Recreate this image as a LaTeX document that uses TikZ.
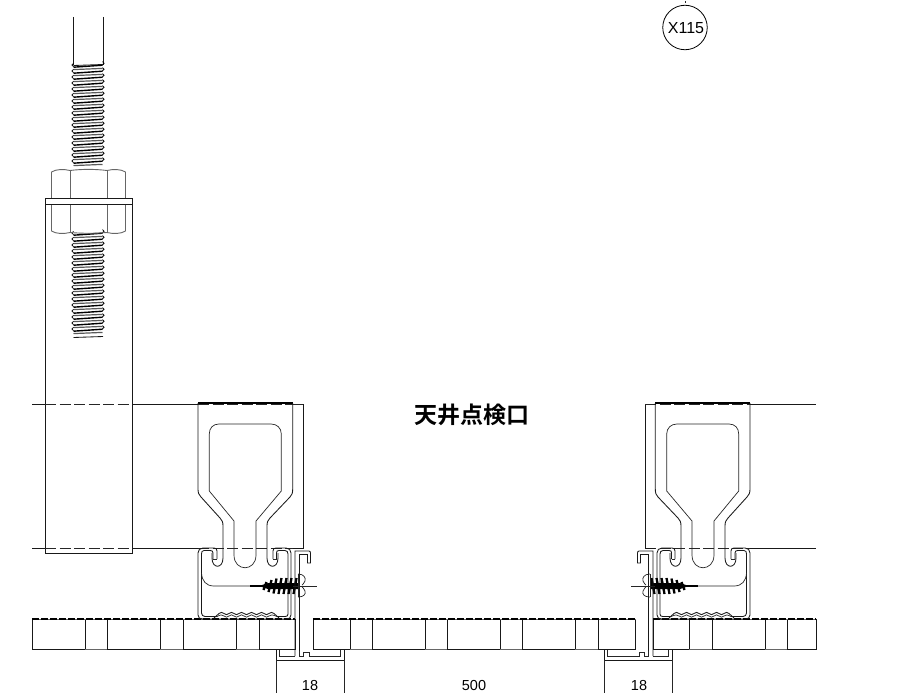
\documentclass[tikz,border=0pt]{standalone}
\usepackage{fontspec}
\setmainfont{Liberation Sans}
\newfontfamily\cjkfont{Noto Sans CJK JP}[BoldFont={Noto Sans CJK JP Bold}]
\tikzset{
  line/.style={line width=0.85pt,draw=black!90},
  heavy/.style={line width=1.1pt,draw=black},
  thin/.style={line width=0.7pt,draw=black!85},
  soft/.style={line width=0.9pt,draw=black!60},
  dashline/.style={line width=0.8pt,draw=black!85,dash pattern=on 11pt off 3.5pt},
  paneltop/.style={line width=1.1pt,draw=black,dash pattern=on 7pt off 2pt},
  lbl/.style={font=\fontsize{14.5}{15}\selectfont,text=black,inner sep=0pt},
}
\newcommand{\threadrun}[2]{%
  \foreach \i in {0,...,#2}{
    \pgfmathsetmacro{\yy}{#1+6*\i}
    \draw[line width=1.4pt,black] (73.5,\yy+1.2) -- (102.5,\yy-0.8);
    \draw[line width=1.2pt,black!65] (73.5,\yy+3.6) -- (102.5,\yy+2.4);
    \draw[line width=0.8pt,black] (73.5,\yy+0.6) arc[start angle=90,end angle=270,radius=1.6];
    \draw[line width=0.8pt,black] (102.5,\yy-1.2) arc[start angle=90,end angle=-90,radius=1.6];
  }
}
\newcommand{\clipset}{%
  % thin outer frame and hanger
  \draw[line] (292.7,548) -- (303,548) -- (303,404);
  \draw[thin] (292.7,404) -- (303,404);
  \draw[heavy] (198,403) -- (292.7,403);
  \draw[line] (198,403) -- (198,489) .. controls (198,493) and (199,495) .. (201,497)
    -- (220,518) .. controls (222,520) and (223,522) .. (223,526) -- (223,558)
    .. controls (223,569) and (212,569) .. (212,558) -- (212,553);
  \draw[line] (292.7,403) -- (292.7,489) .. controls (292.7,493) and (292,495) .. (290,497)
    -- (270,518) .. controls (268,520) and (267,522) .. (267,526) -- (267,558)
    .. controls (267,569) and (278,569) .. (278,558) -- (278,553);
  \draw[thin] (234,524) -- (234,555) .. controls (234,572) and (256,572) .. (256,555) -- (256,521)
    -- (281.3,491) -- (281.3,434) .. controls (281.3,428) and (277,424) .. (271,424)
    -- (219,424) .. controls (213,424) and (209.3,428) .. (209.3,434) -- (209.3,491) -- (234,521) -- cycle;
  % channel
  \draw[line] (217,559) -- (217,551) .. controls (217,549) and (216,548) .. (214,548)
    -- (203,548) .. controls (200,548) and (198,550) .. (198,553) -- (198,615)
    .. controls (198,618) and (200,619) .. (203,619) -- (286,619)
    .. controls (289,619) and (291,618) .. (291,615) -- (291,553)
    .. controls (291,550) and (289,548) .. (286,548) -- (276,548)
    .. controls (274,548) and (273,549) .. (273,551) -- (273,559);
  \draw[line] (213,559) -- (213,553) .. controls (213,551) and (212,550.5) .. (210,550.5)
    -- (204,550.5) .. controls (202,550.5) and (201.5,552) .. (201.5,554) -- (201.5,613)
    .. controls (201.5,615) and (203,616.5) .. (205,616.5) -- (217,616.5);
  \draw[thin] (213,559) -- (217,559) (273,559) -- (276.5,559);
  \draw[line] (276.5,559) -- (276.5,553) .. controls (276.5,551) and (277,550.5) .. (279,550.5)
    -- (285,550.5) .. controls (287,550.5) and (288,552) .. (288,554) -- (288,614)
    .. controls (288,616) and (287,616.5) .. (285,616.5) -- (277,616.5);
  % corrugated base
  \draw[line] (214,618) -- (219,613.5)
    .. controls (221,612) and (222,612) .. (224,613.5) .. controls (226,615) and (227,615) .. (229,613.5)
    .. controls (231,612) and (232,612) .. (234,613.5) .. controls (236,615) and (237,615) .. (239,613.5)
    .. controls (241,612) and (242,612) .. (244,613.5) .. controls (246,615) and (247,615) .. (249,613.5)
    .. controls (251,612) and (252,612) .. (254,613.5) .. controls (256,615) and (257,615) .. (259,613.5)
    .. controls (261,612) and (262,612) .. (264,613.5) .. controls (266,615) and (267,615) .. (269,613.5)
    .. controls (271,612) and (272,612) .. (274,613.5) -- (279,618);
  \draw[thin] (217,616.5)  .. controls (221,614.5) and (222,614.5) .. (224,616)
    .. controls (226,617.5) and (227,617.5) .. (229,616) .. controls (231,614.5) and (232,614.5) .. (234,616)
    .. controls (236,617.5) and (237,617.5) .. (239,616) .. controls (241,614.5) and (242,614.5) .. (244,616)
    .. controls (246,617.5) and (247,617.5) .. (249,616) .. controls (251,614.5) and (252,614.5) .. (254,616)
    .. controls (256,617.5) and (257,617.5) .. (259,616) .. controls (261,614.5) and (262,614.5) .. (264,616)
    .. controls (266,617.5) and (267,617.5) .. (269,616) .. controls (271,614.5) and (272,614.5) .. (277,616.5);
  % hold-down tail of screw
  \draw[thin] (201.5,573) .. controls (202,581) and (206,586) .. (214,586) -- (260,586);
  \draw[line width=1.4pt,black] (250,586) -- (262,586);
  % screw thread
  \fill[black] (259,586) -- (268,583) -- (298,583) -- (298,589) -- (268,589) -- cycle;
  \foreach \sx/\sh in {265/4,270/6,275/7.5,280/8,285/8,290/8,295/8}{
    \draw[line width=2.3pt,black] (\sx+1.5,586-\sh) -- (\sx-1.5,586+\sh);
  }
  % screw head
  \draw[thin] (298,574) .. controls (304,574) and (306,578) .. (305,581) .. controls (304,584) and (302,585) .. (302,585);
  \draw[thin] (298,597) .. controls (304,597) and (306,594) .. (305,591) .. controls (304,588) and (302,587) .. (302,587);
  \draw[thin] (298,574) -- (298,597);
  \draw[thin] (293,586) -- (317,586);
  % T-bar
  \draw[line] (299.5,651) -- (299.5,554.5) -- (307.5,554.5) -- (307.5,563) -- (310.5,563) -- (310.5,553)
    .. controls (310.5,552) and (310,551) .. (309,551) -- (295,551) -- (295,656);
  \draw[line] (276,650) -- (276,660) -- (344,660) -- (344,650);
  \draw[thin] (279.5,650) -- (279.5,656) -- (295,656);
  \draw[thin] (299.5,651) -- (299.5,656) -- (303.5,656) -- (303.5,652) -- (309,652) -- (309,656) -- (340.5,656) -- (340.5,650);
  % dimension lines
  \draw[thin] (276,660) -- (276,693) (344,660) -- (344,693);
}
\begin{document}
\begin{tikzpicture}[x=1pt,y=-1pt]
\useasboundingbox (0,0) rectangle (900,693);
% rod
\draw[line] (73.5,17) -- (73.5,65) (103,17) -- (103,65);
\threadrun{66}{16}
\threadrun{234}{16}
\draw[line] (73.5,65.5) -- (103,64.5);
\draw[line] (73.5,337.5) -- (103,336.5);
% nut
\draw[soft] (51.5,198) -- (51.5,172) .. controls (56,169) and (64,169) .. (70,170.5) .. controls (82,169) and (95,169) .. (107,170.5) .. controls (113,169) and (121,169) .. (125.5,172) -- (125.5,198);
\draw[soft] (70,170.5) -- (70,198) (107,170.5) -- (107,198);
\draw[soft] (51.5,204) -- (51.5,231) .. controls (56,234) and (64,234) .. (70,232.5) .. controls (82,233.5) and (95,233.5) .. (107,232.5) .. controls (113,234) and (121,234) .. (125.5,231) -- (125.5,204);
\draw[soft] (70,204) -- (70,232.5) (107,204) -- (107,232.5);
% washer + sleeve
\draw[line] (45,198) rectangle (132,204);
\draw[line] (45,204) -- (45,553) -- (132,553) -- (132,204);
% ceiling lines
\draw[line] (32,404) -- (45,404) (132,404) -- (198,404) (750,404) -- (816,404);
\draw[line] (32,548) -- (45,548) (132,548) -- (198,548) (750,548) -- (816,548);
\draw[dashline] (45,404) -- (132,404);
\draw[dashline] (45,548) -- (132,548);
\draw[dashline] (198,404) -- (303,404);
\draw[dashline] (198,548) -- (303,548);
\draw[dashline] (645,404) -- (750,404);
\draw[dashline] (645,548) -- (750,548);
% ceiling panels
\foreach \a/\b in {32/85,107/160,183/236,259/295,313/350,372/425,447/500,522/575,598/635.5,653/689,712/765,787/816}{
  \draw[line,line width=1pt] (\a,619) -- (\a,649) -- (\b,649) -- (\b,619);
}
\foreach \a/\b in {85/107,160/183,236/259,350/372,425/447,500/522,575/598,689/712,765/787}{
  \draw[soft] (\a,649) -- (\b,649);
}
\draw[soft] (32,619.5) -- (295,619.5) (313,619.5) -- (635.5,619.5) (653,619.5) -- (816,619.5);
\draw[paneltop] (32,619) -- (295,619);
\draw[paneltop] (313,619) -- (635.5,619);
\draw[paneltop] (653,619) -- (816,619);
% clip assemblies
\begin{scope}\clipset\end{scope}
\begin{scope}[shift={(948,0)},xscale=-1]\clipset\end{scope}
% texts
\node[lbl] (d1) at (310,685.5) {18};
\node[lbl] (d2) at (474,685.5) {500};
\node[lbl] (d3) at (639,685.5) {18};
\node[font=\cjkfont\fontsize{23}{23}\selectfont\bfseries,inner sep=0pt] (title) at (472,415) {天井点検口};
% callout
\node[draw=black,line width=0.8pt,circle,minimum size=44.5pt,inner sep=0pt] (callout) at (685,27.5) {};
\node[lbl,font=\fontsize{16}{17}\selectfont] (calloutlabel) at (686,28) {X115};
\coordinate (tickA) at (685,1);
\coordinate (tickB) at (685,3);
\draw[thin] (tickA) -- (tickB);
\end{tikzpicture}
\end{document}
